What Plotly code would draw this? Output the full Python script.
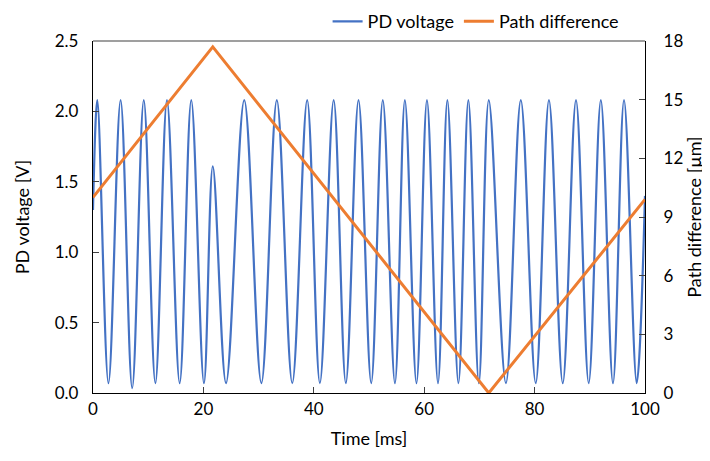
import plotly.graph_objects as go

# PD voltage: start, alternating peaks/troughs, end
pd_time = [0.0, 0.78, 2.8, 5.0, 7.1, 9.2, 11.3, 13.4, 15.7, 17.8, 20.1, 21.7, 24.1, 27.4, 30.5,
           33.3, 36.1, 38.8, 41.1, 43.6, 45.8, 48.1, 50.4, 52.5, 54.7, 56.5, 58.6, 60.5, 62.5,
           64.2, 66.2, 68.0, 69.9, 71.7, 74.8, 77.5, 80.2, 82.6, 85.1, 87.5, 89.8, 92.0, 94.2,
           96.2, 98.5, 100.0]
pd_voltage = [1.30, 2.08, 0.07, 2.08, 0.035, 2.08, 0.07, 2.08, 0.07, 2.08, 0.07, 1.61, 0.07, 2.08, 0.07,
              2.08, 0.07, 2.08, 0.07, 2.08, 0.07, 2.08, 0.07, 2.08, 0.07, 2.08, 0.07, 2.08, 0.07,
              2.08, 0.07, 2.08, 0.07, 2.08, 0.07, 2.08, 0.07, 2.08, 0.07, 2.08, 0.07, 2.08, 0.07,
              2.08, 0.07, 1.40]

# Path difference (triangle) vertices
path_time = [0.0, 21.7, 71.7, 100.0]
path_diff = [10.0, 17.7, 0.0, 9.9]

x_ticks = [0, 20, 40, 60, 80, 100]
y_ticks = [0.0, 0.5, 1.0, 1.5, 2.0, 2.5]
y2_ticks = [0, 3, 6, 9, 12, 15, 18]

FONT = "Lato"
TICK_FONT = dict(family=FONT, size=17, color="#000000")
TITLE_FONT = dict(family=FONT, size=18, color="#000000")

fig = go.Figure()
fig.add_trace(go.Scatter(x=pd_time, y=pd_voltage, mode="lines", name="PD voltage",
                         line=dict(color="#4472C4", width=2.2, shape="spline", smoothing=1.0)))
fig.add_trace(go.Scatter(x=path_time, y=path_diff, mode="lines", name="Path difference",
                         yaxis="y2", line=dict(color="#ED7D31", width=3)))

axis_common = dict(showgrid=False, zeroline=False, showline=True, linecolor="#000000",
                   linewidth=1.3, ticks="inside", ticklen=6, tickcolor="#404040",
                   tickfont=TICK_FONT)

fig.update_layout(
    width=710, height=461,
    margin=dict(l=85, r=73, t=33, b=76, autoexpand=False),
    paper_bgcolor="white", plot_bgcolor="white",
    font=dict(family=FONT, size=17, color="#000000"),
    showlegend=True,
    legend=dict(orientation="h", x=0.425, y=1.055, xanchor="left", yanchor="middle",
                font=dict(family=FONT, size=18, color="#000000"), itemwidth=30,
                bgcolor="rgba(0,0,0,0)", traceorder="normal"),
    xaxis=dict(range=[0, 100], tickvals=x_ticks, ticktext=[str(v) for v in x_ticks],
               title=dict(text="Time [ms]", font=TITLE_FONT, standoff=14),
               **axis_common),
    yaxis=dict(range=[0, 2.5], tickvals=y_ticks, ticktext=[f"{v:.1f}" for v in y_ticks],
               ticklabelstandoff=10,
               title=dict(text="PD voltage [V]", font=TITLE_FONT, standoff=20),
               **axis_common),
    yaxis2=dict(range=[0, 18], tickvals=y2_ticks, ticktext=[str(v) for v in y2_ticks],
                overlaying="y", side="right", anchor="x", ticklabelstandoff=14,
                title=dict(text="Path difference [µm]", font=TITLE_FONT, standoff=3),
                **axis_common),
    shapes=[dict(type="line", xref="paper", yref="paper", x0=0, x1=1, y0=1, y1=1,
                 line=dict(color="#7f7f7f", width=1.3))],
)

fig.write_html("out.html")
